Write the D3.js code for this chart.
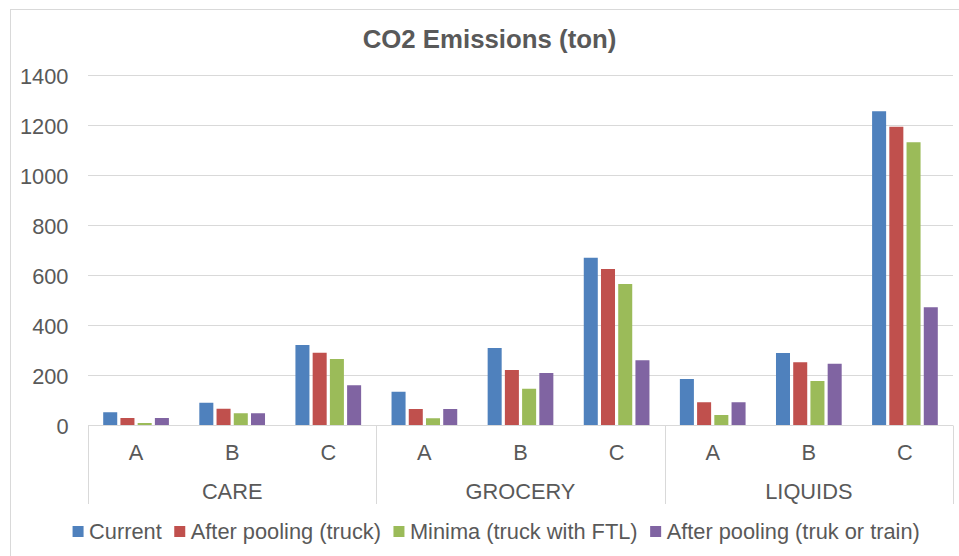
<!DOCTYPE html>
<html>
<head>
<meta charset="utf-8">
<script src="https://cdn.jsdelivr.net/npm/d3@7"></script>
<style>
  html, body { margin: 0; padding: 0; background: #fff; }
  svg { display: block; font-family: "Liberation Sans", Arial, sans-serif; }
</style>
</head>
<body>
<svg id="chart" width="959" height="556"></svg>
<script>
const title = "CO2 Emissions (ton)";
const groups = ["CARE", "GROCERY", "LIQUIDS"];
const categories = ["A", "B", "C"];
const seriesNames = ["Current", "After pooling (truck)", "Minima (truck with FTL)", "After pooling (truk or train)"];
const seriesColors = ["#4F81BD", "#C0504D", "#9BBB59", "#8064A2"];
// values in order CARE A,B,C, GROCERY A,B,C, LIQUIDS A,B,C
const current      = [53, 91, 322, 135, 310, 671, 186, 290, 1257];
const poolTruck    = [30, 67, 291, 66, 222, 626, 93, 253, 1195];
const minimaFTL    = [10, 49, 266, 29, 147, 566, 42, 178, 1133];
const poolTrain    = [30, 49, 161, 66, 210, 261, 93, 247, 473];
const yTicks = [0, 200, 400, 600, 800, 1000, 1200, 1400];

const seriesValues = [current, poolTruck, minimaFTL, poolTrain];
const rows = [];
groups.forEach((g, gi) => categories.forEach((c, ci) => {
  rows.push({ group: g, cat: c, values: seriesValues.map(s => s[gi * categories.length + ci]) });
}));

const svg = d3.select("#chart");
const textColor = "#595959";
const gridColor = "#d9d9d9";
const fontSize = 21.8;

// chart border
svg.append("rect").attr("x", 10.5).attr("y", 9.5).attr("width", 1000).attr("height", 1000)
  .attr("fill", "none").attr("stroke", gridColor).attr("stroke-width", 1);

const plotLeft = 88, plotRight = 953, plotBottom = 425.5, plotTop = 75.5;
const y = d3.scaleLinear().domain([0, 1400]).range([plotBottom, plotTop]);
const xGroup = d3.scaleBand().domain(groups).range([plotLeft, plotRight]);
const xCat = d3.scaleBand().domain(categories).range([0, xGroup.bandwidth()]);
const catW = xCat.bandwidth();
const barSpan = 65.7;
const xSeries = d3.scaleBand().domain(seriesNames)
  .range([(catW - barSpan) / 2, (catW + barSpan) / 2]).paddingInner(0.186);

// gridlines
svg.append("g").selectAll("line").data(yTicks.slice(1)).join("line")
  .attr("x1", plotLeft).attr("x2", plotRight)
  .attr("y1", d => y(d)).attr("y2", d => y(d))
  .attr("stroke", gridColor).attr("stroke-width", 1);

// y axis labels
const yAxis = d3.axisLeft(y).tickValues(yTicks).tickFormat(d3.format("d")).tickSize(0).tickPadding(0);
const yg = svg.append("g").attr("transform", `translate(68.5,0)`).call(yAxis);
yg.select(".domain").remove();
yg.selectAll("text").attr("fill", textColor).style("font-size", fontSize + "px")
  .style("font-family", "Liberation Sans, Arial, sans-serif").attr("dy", "0.36em");

// bars
const catG = svg.append("g").selectAll("g").data(rows).join("g")
  .attr("transform", d => `translate(${xGroup(d.group) + xCat(d.cat)},0)`);
catG.selectAll("rect").data(d => d.values.map((v, i) => ({ v, i }))).join("rect")
  .attr("x", d => xSeries(seriesNames[d.i]))
  .attr("width", xSeries.bandwidth())
  .attr("y", d => y(d.v))
  .attr("height", d => y(0) - y(d.v))
  .attr("fill", d => seriesColors[d.i]);

// category axis line
svg.append("line").attr("x1", plotLeft).attr("x2", plotRight)
  .attr("y1", plotBottom).attr("y2", plotBottom)
  .attr("stroke", gridColor).attr("stroke-width", 1);

// group separators
const seps = groups.map(g => xGroup(g)).concat([plotRight]);
svg.append("g").selectAll("line").data(seps).join("line")
  .attr("x1", d => Math.round(d) + 0.5).attr("x2", d => Math.round(d) + 0.5)
  .attr("y1", plotBottom).attr("y2", 504)
  .attr("stroke", gridColor).attr("stroke-width", 1);

// category labels
svg.append("g").selectAll("text").data(rows).join("text")
  .attr("x", d => xGroup(d.group) + xCat(d.cat) + catW / 2)
  .attr("y", 459.5).attr("text-anchor", "middle")
  .attr("fill", textColor).style("font-size", fontSize + "px")
  .text(d => d.cat);

// group labels
svg.append("g").selectAll("text").data(groups).join("text")
  .attr("x", d => xGroup(d) + xGroup.bandwidth() / 2)
  .attr("y", 498.5).attr("text-anchor", "middle")
  .attr("fill", textColor).style("font-size", fontSize + "px")
  .text(d => d);

// title
svg.append("text").attr("x", 489.5).attr("y", 47.5).attr("text-anchor", "middle")
  .attr("fill", textColor).style("font-size", "25.8px").style("font-weight", "bold")
  .text(title);

// legend
const legend = svg.append("g");
const sq = 11, sqGap = 5.5, itemGap = 12.5;
let lx = 0;
seriesNames.forEach((name, i) => {
  const g = legend.append("g");
  g.append("rect").attr("x", lx).attr("y", 526).attr("width", sq).attr("height", sq)
    .attr("fill", seriesColors[i]);
  const t = g.append("text").attr("x", lx + sq + sqGap).attr("y", 539)
    .attr("fill", textColor).style("font-size", fontSize + "px").text(name);
  const w = t.node().getComputedTextLength();
  lx += sq + sqGap + w + itemGap;
});
const totalW = lx - itemGap;
legend.attr("transform", `translate(${496.2 - totalW / 2},0)`);
</script>
</body>
</html>
